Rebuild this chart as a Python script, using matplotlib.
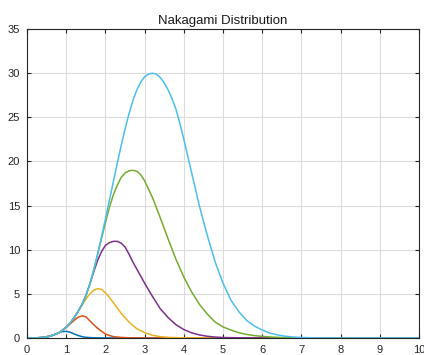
import matplotlib
matplotlib.use("Agg")
import matplotlib.pyplot as plt

# values, one (x, y) list per curve
blue_x = [0, 0.3, 0.5, 0.6, 0.7, 0.8, 0.9, 1.0, 1.1, 1.2, 1.3, 1.4, 1.5, 1.7, 2.0, 10]
blue_y = [0, 0.01, 0.1, 0.22, 0.4, 0.58, 0.72, 0.75, 0.65, 0.45, 0.28, 0.15, 0.07, 0.02, 0, 0]

orange_x = [0, 0.2, 0.4, 0.6, 0.8, 0.9, 1.0, 1.1, 1.2, 1.3, 1.4, 1.5, 1.6, 1.7, 1.8, 1.9, 2.0, 2.1, 2.2, 2.4, 2.6, 3.0, 10]
orange_y = [0, 0.005, 0.06, 0.22, 0.55, 0.85, 1.2, 1.6, 2.0, 2.35, 2.5, 2.4, 1.95, 1.5, 1.1, 0.75, 0.45, 0.28, 0.15, 0.06, 0.02, 0, 0]

yellow_x = [0, 0.2, 0.4, 0.6, 0.8, 0.9, 1.0, 1.1, 1.2, 1.3, 1.4, 1.5, 1.6, 1.7, 1.8, 1.9, 2.0, 2.1, 2.2, 2.3,
            2.4, 2.5, 2.6, 2.7, 2.8, 3.0, 3.2, 3.4, 3.6, 4.0, 10]
yellow_y = [0, 0.005, 0.06, 0.22, 0.55, 0.88, 1.25, 1.7, 2.3, 3.0, 3.7, 4.4, 5.0, 5.4, 5.6, 5.5, 5.1, 4.6, 4.0, 3.4,
            2.8, 2.3, 1.8, 1.4, 1.05, 0.6, 0.3, 0.15, 0.07, 0.01, 0]

purple_x = [0, 0.2, 0.4, 0.6, 0.8, 0.9, 1.0, 1.1, 1.2, 1.3, 1.4, 1.5, 1.6, 1.7, 1.8, 1.9, 2.0, 2.1, 2.2, 2.3,
            2.4, 2.5, 2.6, 2.7, 2.8, 2.9, 3.0, 3.2, 3.4, 3.6, 3.8, 4.0, 4.2, 4.4, 4.6, 4.8, 5.0, 5.5, 10]
purple_y = [0, 0.005, 0.06, 0.22, 0.55, 0.88, 1.25, 1.7, 2.3, 3.0, 3.8, 4.8, 6.1, 7.5, 8.8, 9.8, 10.5, 10.8, 10.95, 10.95,
            10.75, 10.3, 9.5, 8.6, 7.8, 7.0, 6.2, 4.7, 3.3, 2.3, 1.5, 0.95, 0.58, 0.34, 0.19, 0.1, 0.05, 0.01, 0]

green_x = [0, 0.2, 0.4, 0.6, 0.8, 0.9, 1.0, 1.1, 1.2, 1.3, 1.4, 1.5, 1.6, 1.7, 1.8, 1.9, 2.0, 2.1, 2.2, 2.3,
           2.4, 2.5, 2.6, 2.7, 2.8, 2.9, 3.0, 3.2, 3.4, 3.6, 3.8, 4.0, 4.2, 4.4, 4.6, 4.8, 5.0, 5.2, 5.4, 5.6,
           5.8, 6.0, 6.2, 6.5, 7.0, 10]
green_y = [0, 0.005, 0.06, 0.22, 0.55, 0.88, 1.25, 1.7, 2.3, 3.0, 3.8, 4.8, 6.1, 7.7, 9.5, 11.3, 13.1, 14.8, 16.2, 17.3,
           18.2, 18.7, 18.95, 19.0, 18.9, 18.5, 17.8, 15.9, 13.6, 11.2, 8.9, 6.9, 5.2, 3.8, 2.7, 1.8, 1.25, 0.9, 0.6, 0.4,
           0.27, 0.18, 0.11, 0.05, 0.01, 0]

cyan_x = [0, 0.2, 0.4, 0.6, 0.8, 0.9, 1.0, 1.1, 1.2, 1.3, 1.4, 1.5, 1.6, 1.7, 1.8, 1.9, 2.0, 2.1, 2.2, 2.3,
          2.4, 2.5, 2.6, 2.7, 2.8, 2.9, 3.0, 3.1, 3.2, 3.3, 3.4, 3.5, 3.6, 3.7, 3.8, 3.9, 4.0, 4.1, 4.2, 4.4,
          4.6, 4.8, 5.0, 5.2, 5.4, 5.6, 5.8, 6.0, 6.2, 6.4, 6.6, 6.8, 7.0, 7.4, 8.0, 10]
cyan_y = [0, 0.005, 0.06, 0.22, 0.55, 0.88, 1.25, 1.7, 2.3, 3.0, 3.8, 4.8, 6.1, 7.7, 9.5, 11.5, 13.5, 15.6, 17.7, 19.8,
          21.8, 23.7, 25.4, 26.9, 28.1, 29.0, 29.6, 29.9, 30.0, 29.9, 29.5, 28.9, 28.1, 27.1, 25.9, 24.3, 22.5, 20.6, 18.7, 14.9,
          11.6, 8.6, 6.2, 4.3, 3.0, 2.0, 1.35, 0.9, 0.55, 0.33, 0.19, 0.1, 0.05, 0.01, 0, 0]

# matlab default colour order
colors = ['#0072BD', '#D95319', '#EDB120', '#7E2F8E', '#77AC30', '#4DBEEE']

plt.rcParams['font.family'] = ['Liberation Sans', 'DejaVu Sans']

fig = plt.figure(figsize=(4.24, 3.55), dpi=100)
ax = fig.add_axes([0.064, 0.048, 0.924, 0.870])

curves = [(blue_x, blue_y), (orange_x, orange_y), (yellow_x, yellow_y),
          (purple_x, purple_y), (green_x, green_y), (cyan_x, cyan_y)]
for (cx, cy), c in zip(curves, colors):
    ax.plot(cx, cy, color=c, linewidth=1.1)

ax.set_xlim(0, 10)
ax.set_ylim(0, 35)
ax.set_xticks(range(0, 11))
ax.set_yticks(range(0, 36, 5))
ax.grid(True, color='#dcdcdc', linewidth=0.8)
ax.set_axisbelow(True)
ax.tick_params(direction='in', length=3, width=0.8, top=True, right=True,
               labelsize=8, colors='#262626', pad=5)
for s in ax.spines.values():
    s.set_color('#262626')
    s.set_linewidth(0.8)
ax.set_title('Nakagami Distribution', fontsize=9.5, color='#1a1a1a', pad=4)

fig.savefig('out.png', dpi=100)
